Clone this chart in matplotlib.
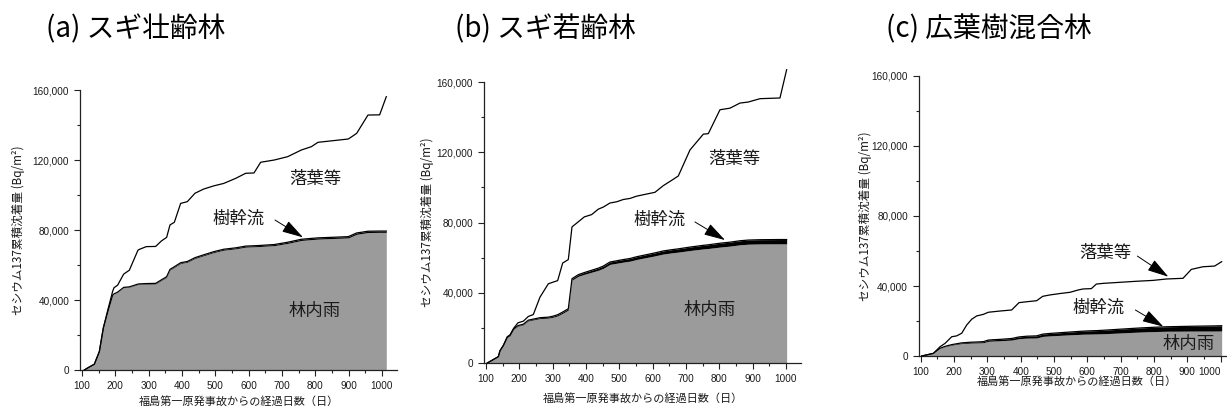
import numpy as np
import matplotlib
matplotlib.use("Agg")
import matplotlib.pyplot as plt
from matplotlib.ticker import MultipleLocator, StrMethodFormatter

plt.rcParams['font.family'] = ['Noto Sans CJK JP', 'DejaVu Sans']

# ---- data: cumulative Cs-137 deposition (Bq/m2) by pathway ----
# (a) スギ壮齢林
days_a = [107, 120, 137, 152, 164, 177, 192, 196, 207, 225, 242, 268, 273, 293,
          321, 338, 354, 364, 377, 396, 416, 439, 465, 495, 525, 561, 591, 616,
          636, 677, 717, 758, 788, 808, 899, 924, 958, 993, 1013]
throughfall_a = [0, 1500, 3300, 10500, 24000, 33000, 42750, 43450, 44420, 47050,
                 47320, 48870, 48970, 49150, 49200, 51170, 52950, 57150, 58620,
                 60900, 61570, 63750, 65320, 67100, 68470, 69250, 70220, 70420,
                 70600, 71070, 72350, 74020, 74500, 74800, 75470, 77550, 78550,
                 78650, 78650]
stemflow_a = [0, 0, 0, 0, 0, 0, 50, 50, 80, 150, 180, 230, 230, 250, 300, 330,
              350, 350, 380, 400, 430, 450, 480, 500, 530, 550, 580, 580, 600,
              630, 650, 680, 700, 700, 730, 750, 750, 750, 750]
litter_a = [0, 0, 0, 0, 0, 1000, 2200, 3500, 4000, 7600, 9500, 19400, 19800,
            21100, 21100, 22200, 22500, 25400, 25400, 33900, 34200, 36800, 37600,
            37600, 37600, 39700, 41600, 41600, 47500, 48300, 48900, 51000, 52400,
            54600, 55800, 56900, 66400, 66400, 76800]

# (b) スギ若齢林
days_b = [104, 137, 142, 152, 164, 172, 183, 196, 212, 227, 242, 262, 287, 302,
          315, 330, 347, 358, 377, 395, 417, 437, 452, 472, 492, 512, 532, 552,
          572, 607, 632, 657, 677, 712, 752, 767, 802, 832, 862, 887, 922, 982,
          1002]
throughfall_b = [0, 3600, 7000, 9800, 14550, 15400, 19150, 21000, 21750, 24000,
                 24550, 25300, 25550, 26100, 26850, 28300, 30150, 47200, 49400,
                 50500, 51700, 52800, 53950, 56150, 56800, 57450, 58000, 58950,
                 59700, 61000, 62050, 62700, 63150, 64050, 64950, 65200, 66000,
                 66550, 67300, 67650, 67800, 67850, 67850]
stemflow_b = [0, 0, 0, 100, 150, 200, 250, 300, 350, 400, 450, 500, 550, 600,
              650, 700, 750, 800, 900, 1000, 1100, 1200, 1250, 1350, 1400, 1450,
              1500, 1550, 1600, 1700, 1750, 1800, 1850, 1950, 2050, 2100, 2200,
              2250, 2300, 2350, 2400, 2450, 2450]
litter_b = [0, 0, 0, 100, 300, 400, 400, 1600, 1700, 2100, 2600, 11700, 19000,
            19400, 19400, 27900, 28000, 29500, 30100, 31700, 31700, 33600, 33600,
            33600, 33600, 34200, 34200, 34500, 34500, 34500, 37200, 39500, 41500,
            55300, 63300, 63300, 76000, 76300, 78400, 78600, 80300, 80600, 96700]

# (c) 広葉樹混合林
days_c = [103, 138, 158, 173, 183, 193, 208, 223, 238, 253, 268, 288, 303, 318,
          338, 373, 395, 418, 448, 466, 488, 518, 548, 572, 587, 612, 627, 647,
          697, 747, 797, 837, 887, 912, 947, 982, 1003]
throughfall_c = [0, 1500, 4300, 5300, 5750, 6200, 6650, 7100, 7250, 7400, 7450,
                 7600, 8400, 8550, 8700, 9100, 9900, 10200, 10300, 11200, 11500,
                 11800, 12100, 12300, 12450, 12550, 12600, 12700, 13150, 13600,
                 13950, 14150, 14200, 14250, 14250, 14250, 14300]
stemflow_c = [0, 0, 100, 200, 250, 300, 350, 400, 450, 500, 550, 600, 700, 750,
              800, 900, 1000, 1100, 1200, 1300, 1400, 1500, 1600, 1700, 1750,
              1850, 1900, 2000, 2150, 2300, 2450, 2550, 2700, 2750, 2850, 2950,
              3000]
litter_c = [0, 0, 900, 1700, 3100, 4500, 4500, 5500, 10000, 13100, 14900, 15600,
            15900, 16000, 16200, 16300, 19600, 19700, 20100, 21600, 22000, 22400,
            22700, 23700, 24100, 24100, 26600, 26800, 26800, 26800, 26800, 27300,
            27500, 32500, 33900, 34200, 36600]

titles = ["(a) スギ壮齢林", "(b) スギ若齢林", "(c) 広葉樹混合林"]
label_tf, label_sf, label_lf = "林内雨", "樹幹流", "落葉等"
xlabel = "福島第一原発事故からの経過日数（日）"
ylabel = "セシウム137累積沈着量 (Bq/m²)"

# ---- figure layout (pixels -> figure fraction) ----
W, H = 1227, 412
fig = plt.figure(figsize=(W / 100, H / 100), dpi=100)

XMIN, XMAX = 95, 1045
PX_PER_DAY = 0.3333
ax_w = (XMAX - XMIN) * PX_PER_DAY


def make_axes(x100, y0, y160k):
    left = x100 - (100 - XMIN) * PX_PER_DAY
    return fig.add_axes([left / W, 1 - y0 / H, ax_w / W, (y0 - y160k) / H])


panels = [
    dict(ax=make_axes(82, 370, 90), days=days_a, tf=throughfall_a, sf=stemflow_a,
         lf=litter_a, ylab_x=-0.176, xlab_y=-0.095, title_x=46),
    dict(ax=make_axes(486, 363, 82), days=days_b, tf=throughfall_b, sf=stemflow_b,
         lf=litter_b, ylab_x=-0.160, xlab_y=-0.108, title_x=455),
    dict(ax=make_axes(920.7, 356, 76), days=days_c, tf=throughfall_c, sf=stemflow_c,
         lf=litter_c, ylab_x=-0.150, xlab_y=-0.074, title_x=886),
]

GRAY = "#9b9b9b"
TXT = "#1a1a1a"

for i, (p, title) in enumerate(zip(panels, titles)):
    ax = p["ax"]
    d = np.asarray(p["days"], float)
    tf = np.asarray(p["tf"], float)
    top = tf + np.asarray(p["sf"], float)
    total = top + np.asarray(p["lf"], float)

    ax.fill_between(d, 0, tf, color=GRAY, lw=0, zorder=2)
    ax.fill_between(d, tf, top, color="black", lw=0, zorder=3)
    ax.plot(d, top, color="black", lw=0.9, zorder=4, solid_joinstyle="round")
    ax.plot(d, total, color="black", lw=0.9, zorder=4, clip_on=False,
            solid_joinstyle="round")

    ax.set_xlim(XMIN, XMAX)
    ax.set_ylim(0, 160000)
    ax.set_xticks(np.arange(100, 1001, 100))
    ax.xaxis.set_minor_locator(MultipleLocator(50))
    ax.yaxis.set_major_locator(MultipleLocator(40000))
    ax.yaxis.set_minor_locator(MultipleLocator(20000))
    ax.yaxis.set_major_formatter(StrMethodFormatter("{x:,.0f}"))

    for s in ("top", "right"):
        ax.spines[s].set_visible(False)
    for s in ("left", "bottom"):
        ax.spines[s].set_linewidth(0.9)
        ax.spines[s].set_color("#222222")
    ax.tick_params(which="major", direction="out", length=4.5, width=0.8,
                   color="#222222", pad=3.5)
    ax.tick_params(which="minor", direction="out", length=2.5, width=0.8,
                   color="#222222")
    ax.tick_params(labelsize=7.2, labelcolor=TXT)
    for lab in ax.get_xticklabels() + ax.get_yticklabels():
        lab.set_fontfamily("Liberation Sans")
    if i == 2:
        # the last day label sits against the right edge of the figure
        ax.get_xticklabels()[-1].set_horizontalalignment("right")

    ax.set_xlabel(xlabel, fontsize=8, color=TXT)
    ax.set_ylabel(ylabel, fontsize=8.4, color=TXT)
    ax.xaxis.set_label_coords(0.5, p["xlab_y"])
    ax.yaxis.set_label_coords(p["ylab_x"], 0.5)

    fig.text(p["title_x"] / W, 1 - 29 / H, title, fontsize=20, ha="left",
             va="center", color="black")

arrow = dict(arrowstyle="-|>,head_length=1.1,head_width=0.32", color="black",
             lw=0.7, shrinkA=0, shrinkB=0, mutation_scale=12)
lab_kw = dict(fontsize=12.5, ha="center", va="center", color=TXT, zorder=6)

# (a)
ax = panels[0]["ax"]
ax.text(799, 109000, label_lf, **lab_kw)
ax.text(571, 86300, label_sf, **lab_kw)
ax.text(799, 33700, label_tf, **lab_kw)
ax.annotate("", xy=(763, 75800), xytext=(679, 85700), arrowprops=arrow, zorder=6)

# (b)
ax = panels[1]["ax"]
ax.text(844, 116200, label_lf, **lab_kw)
ax.text(622, 81400, label_sf, **lab_kw)
ax.text(772, 30200, label_tf, **lab_kw)
ax.annotate("", xy=(817, 70000), xytext=(727, 80300), arrowprops=arrow, zorder=6)

# (c)
ax = panels[2]["ax"]
ax.text(654, 58900, label_lf, **lab_kw)
ax.text(633, 27400, label_sf, **lab_kw)
ax.text(904, 6900, label_tf, **lab_kw)
ax.annotate("", xy=(843, 45300), xytext=(750, 57100), arrowprops=arrow, zorder=6)
ax.annotate("", xy=(828, 16800), xytext=(744, 26300), arrowprops=arrow, zorder=6)

fig.savefig("out.png", dpi=100)
